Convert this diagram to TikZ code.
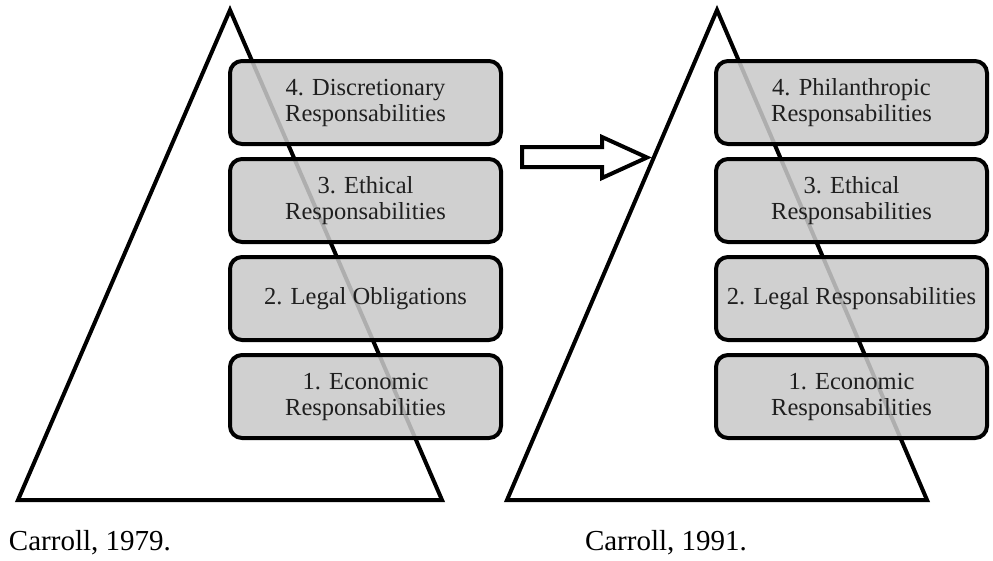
\documentclass[tikz,border=0pt]{standalone}
\usepackage{fontspec}
\setmainfont{Liberation Serif}
\usetikzlibrary{positioning}

\begin{document}
\begin{tikzpicture}[x=1pt,y=-1pt,node distance=98pt,line width=4pt,line join=miter,
    layer/.style={rectangle,draw,rounded corners=12pt,fill=black!21,fill opacity=0.87,text opacity=1,
        text=black!88,align=center,minimum width=271pt,minimum height=83pt,inner sep=0pt,
        font=\fontsize{24.5}{26}\selectfont},
    caption/.style={anchor=base west,inner sep=0pt,font=\fontsize{29}{31}\selectfont}]
    \useasboundingbox (0,0) rectangle (993,560);
    % the two pyramids
    \draw (230,10) -- (18,500) -- (442,500) -- cycle;
    \draw (717,10) -- (507,500) -- (927,500) -- cycle;
    % Carroll 1979
    \node[layer] (old4) at (365.5,102.5) {4. Discretionary\\Responsabilities};
    \node[layer] (old3) [below of=old4] {3. Ethical\\Responsabilities};
    \node[layer] (old2) [below of=old3] {2. Legal Obligations};
    \node[layer] (old1) [below of=old2] {1. Economic\\Responsabilities};
    % Carroll 1991
    \node[layer] (new4) at (851.5,102.5) {4. Philanthropic\\Responsabilities};
    \node[layer] (new3) [below of=new4] {3. Ethical\\Responsabilities};
    \node[layer] (new2) [below of=new3] {2. Legal Responsabilities};
    \node[layer] (new1) [below of=new2] {1. Economic\\Responsabilities};
    % hollow arrow
    \draw (522,147) -- (602,147) -- (602,137) -- (647,157.5) -- (602,178) -- (602,167) -- (522,167) -- cycle;
    \node[caption] (cap1979) at (7,550) {Carroll, 1979.};
    \node[caption] (cap1991) at (583,550) {Carroll, 1991.};
\end{tikzpicture}
\end{document}
